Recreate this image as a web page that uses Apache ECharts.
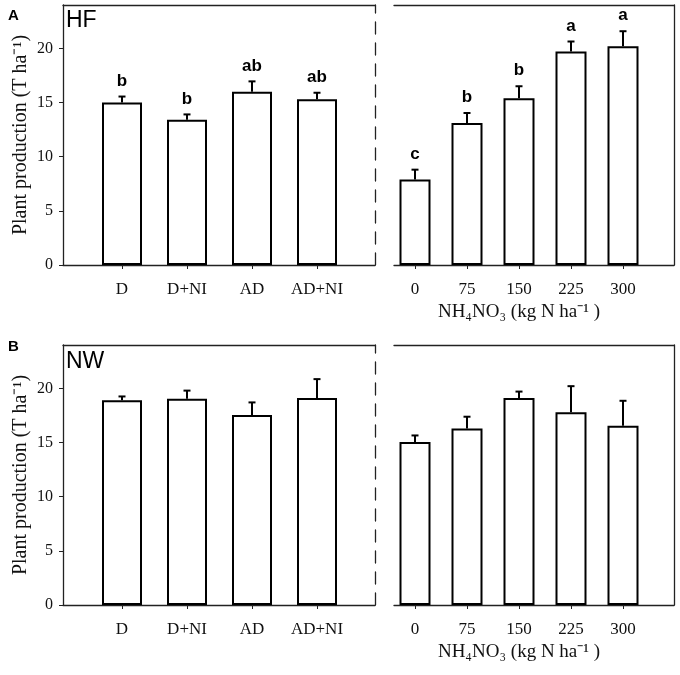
<!DOCTYPE html>
<html>
<head>
<meta charset="utf-8">
<script src="https://cdn.jsdelivr.net/npm/echarts@6/dist/echarts.min.js"></script>
<style>
  html, body { margin: 0; padding: 0; background: #fff; }
  #chart { width: 680px; height: 675px; }
</style>
</head>
<body>
<div id="chart"></div>
<script>
// treatments / N rates
const catsLeft = ['D', 'D+NI', 'AD', 'AD+NI'];
const catsRight = ['0', '75', '150', '225', '300'];

// HF site
const hfLeft = [15.0, 13.4, 16.0, 15.3];
const hfLeftErr = [0.55, 0.5, 0.95, 0.6];
const hfLeftSig = ['b', 'b', 'ab', 'ab'];
const hfRight = [7.9, 13.1, 15.4, 19.7, 20.2];
const hfRightErr = [0.9, 0.93, 1.1, 0.93, 1.38];
const hfRightSig = ['c', 'b', 'b', 'a', 'a'];

// NW site
const nwLeft = [18.9, 19.05, 17.55, 19.1];
const nwLeftErr = [0.35, 0.74, 1.15, 1.75];
const nwRight = [15.05, 16.3, 19.1, 17.8, 16.55];
const nwRightErr = [0.6, 1.08, 0.6, 2.4, 2.3];

const yTicks = [0, 5, 10, 15, 20];
const yMax = 24;

const SERIF = 'Liberation Serif';
const SANS = 'Liberation Sans';
const LINE = '#222';

const chart = echarts.init(document.getElementById('chart'));

const grid = [], xAxis = [], yAxis = [], series = [];

// one sub panel: frame grid + data grid
function panel(opt) {
  const fg = grid.length;
  grid.push({ left: opt.frameLeft, width: opt.frameWidth, top: opt.top, height: 260 });
  const dg = grid.length;
  grid.push({ left: opt.dataLeft, width: opt.dataWidth, top: opt.top, height: 260 });

  const plainX = (pos) => ({
    type: 'value', gridIndex: fg, position: pos, min: 0, max: 1,
    axisLine: { show: true, onZero: false, lineStyle: { color: LINE, width: 1.3 } },
    axisTick: { show: false }, axisLabel: { show: false }, splitLine: { show: false }
  });
  xAxis.push(plainX('bottom'), plainX('top'));
  const xi = xAxis.length;
  xAxis.push({
    type: 'category', gridIndex: dg, data: opt.cats,
    axisLine: { show: false },
    axisTick: { show: true, alignWithLabel: true, length: 4, lineStyle: { color: LINE } },
    axisLabel: { interval: 0, margin: 16, fontFamily: SERIF, fontSize: 17, color: '#111' },
    name: opt.xName || '', nameLocation: 'middle', nameGap: 38,
    nameTextStyle: { fontFamily: SERIF, fontSize: 19, color: '#111' }
  });

  yAxis.push({
    type: 'value', gridIndex: fg, position: 'left', min: 0, max: yMax,
    show: opt.leftAxis,
    axisLine: { show: true, onZero: false, lineStyle: { color: LINE, width: 1.3 } },
    axisTick: { show: true, length: 4, customValues: yTicks, lineStyle: { color: LINE } },
    axisLabel: { margin: 10, customValues: yTicks, fontFamily: SERIF, fontSize: 16, color: '#111' },
    splitLine: { show: false },
    name: 'Plant production (T ha\u207B\u00B9)', nameLocation: 'middle', nameGap: 32,
    nameTextStyle: { fontFamily: SERIF, fontSize: 20, color: '#111' }
  });
  yAxis.push({
    type: 'value', gridIndex: fg, position: 'right', min: 0, max: yMax,
    axisLine: { show: true, onZero: false,
                lineStyle: { color: LINE, width: 1.3, type: opt.dashedRight ? [12, 9] : 'solid' } },
    axisTick: { show: false }, axisLabel: { show: false }, splitLine: { show: false }
  });
  const yi = yAxis.length;
  yAxis.push({ type: 'value', gridIndex: dg, min: 0, max: yMax, show: false });

  series.push({
    type: 'bar', xAxisIndex: xi, yAxisIndex: yi, data: opt.values,
    barWidth: opt.barWidth,
    itemStyle: { color: '#fff', borderColor: '#000', borderWidth: 2 },
    silent: true, animation: false
  });
  series.push({
    type: 'custom', xAxisIndex: xi, yAxisIndex: yi, z: 5, animation: false,
    data: opt.values.map((v, i) => [i, v, opt.errs[i]]),
    renderItem: function (params, api) {
      const i = api.value(0), v = api.value(1), e = api.value(2);
      const p0 = api.coord([i, v]);
      const p1 = api.coord([i, v + e]);
      const st = { stroke: '#000', lineWidth: 2 };
      const children = [
        { type: 'line', shape: { x1: p0[0], y1: p0[1], x2: p1[0], y2: p1[1] }, style: st },
        { type: 'line', shape: { x1: p1[0] - 3.5, y1: p1[1], x2: p1[0] + 3.5, y2: p1[1] }, style: st }
      ];
      if (opt.sig) {
        children.push({
          type: 'text', x: p1[0], y: p1[1] - 7,
          style: { text: opt.sig[params.dataIndex], fontFamily: SANS, fontWeight: 'bold',
                   fontSize: 17, fill: '#000', align: 'center', verticalAlign: 'bottom' }
        });
      }
      return { type: 'group', children: children };
    }
  });
}

const nName = 'NH\u2084NO\u2083 (kg N ha\u207B\u00B9 )';

panel({ top: 5, frameLeft: 63, frameWidth: 312, dataLeft: 89.5, dataWidth: 260, cats: catsLeft,
        values: hfLeft, errs: hfLeftErr, sig: hfLeftSig, barWidth: 40, leftAxis: true, dashedRight: true });
panel({ top: 5, frameLeft: 394, frameWidth: 280, dataLeft: 389, dataWidth: 260, cats: catsRight,
        values: hfRight, errs: hfRightErr, sig: hfRightSig, barWidth: 31, leftAxis: false, xName: nName });
panel({ top: 345, frameLeft: 63, frameWidth: 312, dataLeft: 89.5, dataWidth: 260, cats: catsLeft,
        values: nwLeft, errs: nwLeftErr, barWidth: 40, leftAxis: true, dashedRight: true });
panel({ top: 345, frameLeft: 394, frameWidth: 280, dataLeft: 389, dataWidth: 260, cats: catsRight,
        values: nwRight, errs: nwRightErr, barWidth: 31, leftAxis: false, xName: nName });

chart.setOption({
  backgroundColor: '#fff',
  animation: false,
  grid: grid,
  xAxis: xAxis,
  yAxis: yAxis,
  series: series,
  graphic: [
    { type: 'text', left: 8, top: 8, style: { text: 'A', fontFamily: SANS, fontWeight: 'bold', fontSize: 15, fill: '#000' } },
    { type: 'text', left: 66, top: 9, style: { text: 'HF', fontFamily: SANS, fontSize: 23, fill: '#000' } },
    { type: 'text', left: 8, top: 339, style: { text: 'B', fontFamily: SANS, fontWeight: 'bold', fontSize: 15, fill: '#000' } },
    { type: 'text', left: 66, top: 350, style: { text: 'NW', fontFamily: SANS, fontSize: 23, fill: '#000' } }
  ]
});
</script>
</body>
</html>
